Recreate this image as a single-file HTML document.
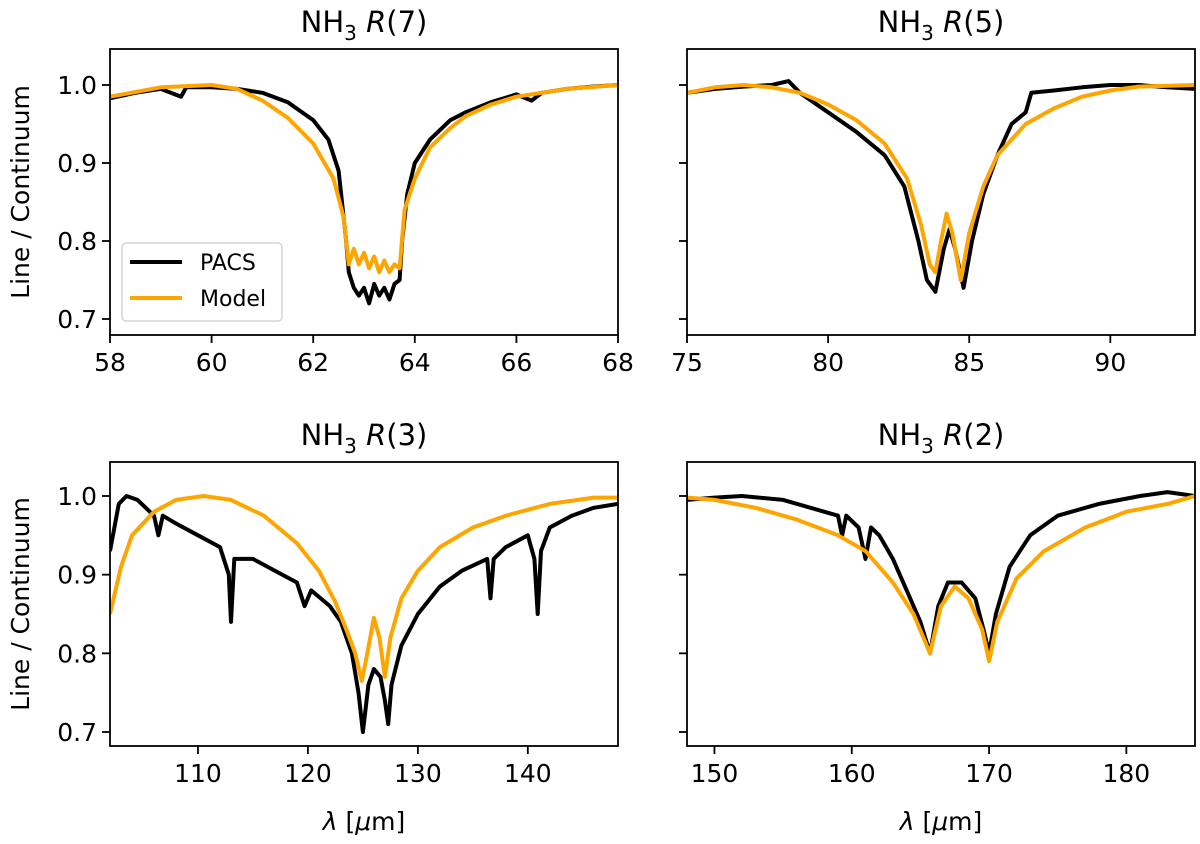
<!DOCTYPE html>
<html><head><meta charset="utf-8"><style>
body{margin:0;background:#fff;}
svg text{font-family:"DejaVu Sans","Liberation Sans",sans-serif;fill:#000;}
</style></head><body>
<svg id="fig" width="1200" height="839" viewBox="0 0 1200 839" xmlns="http://www.w3.org/2000/svg"></svg>
<script>
// Panel R(7)
const r7PacsX=[58,58.5,59,59.4,59.5,60,60.5,61,61.5,62,62.3,62.5,62.65,62.7,62.8,62.9,63,63.1,63.2,63.3,63.4,63.5,63.6,63.7,63.75,63.85,64,64.3,64.7,65,65.5,66,66.3,66.5,67,67.5,68];
const r7PacsY=[0.983,0.99,0.995,0.985,0.997,0.997,0.995,0.99,0.978,0.955,0.93,0.89,0.80,0.76,0.74,0.73,0.74,0.72,0.745,0.73,0.74,0.725,0.745,0.75,0.80,0.86,0.90,0.93,0.955,0.965,0.978,0.988,0.98,0.99,0.995,0.998,1.0];
const r7ModX=[58,59,60,60.5,61,61.5,62,62.4,62.6,62.7,62.8,62.9,63.0,63.1,63.2,63.3,63.4,63.5,63.6,63.7,63.8,64,64.3,64.7,65,65.5,66,67,68];
const r7ModY=[0.985,0.997,1.0,0.995,0.98,0.958,0.925,0.88,0.83,0.77,0.79,0.77,0.785,0.765,0.78,0.76,0.775,0.76,0.77,0.765,0.84,0.88,0.92,0.945,0.96,0.975,0.985,0.995,1.0];
// Panel R(5)
const r5PacsX=[75,76,77,78,78.6,79,80,81,82,82.7,83.2,83.5,83.8,84.1,84.3,84.5,84.8,85.1,85.5,86,86.5,87,87.2,88,89,90,91,92,93];
const r5PacsY=[0.99,0.995,0.998,1.0,1.005,0.99,0.965,0.94,0.91,0.87,0.80,0.75,0.735,0.79,0.815,0.79,0.74,0.80,0.86,0.91,0.95,0.965,0.99,0.993,0.997,1.0,1.0,0.997,0.995];
const r5ModX=[75,76,77,78,79,80,81,82,82.8,83.3,83.6,83.8,84,84.2,84.4,84.7,85,85.5,86,87,88,89,90,91,93];
const r5ModY=[0.99,0.997,1.0,0.997,0.99,0.975,0.955,0.925,0.88,0.82,0.77,0.76,0.80,0.835,0.81,0.75,0.81,0.87,0.91,0.95,0.97,0.985,0.993,0.998,1.0];
// Panel R(3)
const r3PacsX=[102,102.8,103.5,104.5,106,106.4,106.8,108,110,112,112.8,113,113.3,115,117,119,119.7,120.3,122,123,124,124.6,125,125.5,126,126.6,127,127.3,127.6,128.5,130,132,134,136.3,136.6,136.9,138,140,140.6,140.9,141.2,142,144,146,148.2];
const r3PacsY=[0.93,0.99,1.0,0.995,0.975,0.95,0.975,0.965,0.95,0.935,0.90,0.84,0.92,0.92,0.905,0.89,0.86,0.88,0.86,0.84,0.80,0.75,0.70,0.76,0.78,0.77,0.74,0.71,0.76,0.81,0.85,0.885,0.905,0.92,0.87,0.92,0.935,0.95,0.92,0.85,0.93,0.96,0.975,0.985,0.99];
const r3ModX=[102,103,104,106,108,110.5,113,116,119,121,122.5,123.5,124.3,124.9,125.4,126,126.5,127,127.5,128.5,130,132,135,138,142,146,148.2];
const r3ModY=[0.85,0.91,0.95,0.98,0.995,1.0,0.995,0.975,0.94,0.905,0.865,0.83,0.80,0.765,0.80,0.845,0.82,0.77,0.82,0.87,0.905,0.935,0.96,0.975,0.99,0.998,0.998];
// Panel R(2)
const r2PacsX=[148,150,152,155,157,159,159.3,159.6,160.5,161,161.4,162,163,164,165,165.7,166.3,167,168,169,169.6,170,170.5,171.5,173,175,178,181,183,185];
const r2PacsY=[0.995,0.998,1.0,0.995,0.985,0.975,0.95,0.975,0.96,0.92,0.96,0.95,0.92,0.88,0.84,0.80,0.86,0.89,0.89,0.87,0.83,0.80,0.85,0.91,0.95,0.975,0.99,1.0,1.005,1.0];
const r2ModX=[148,150,153,156,159,161,163,164.5,165.7,166.5,167.5,168.5,169.5,170,170.6,172,174,177,180,183,185];
const r2ModY=[0.998,0.995,0.985,0.97,0.95,0.93,0.89,0.85,0.80,0.86,0.885,0.87,0.83,0.79,0.84,0.895,0.93,0.96,0.98,0.99,1.0];
const yTicks=[0.7,0.8,0.9,1.0];
const yTickLabels=["0.7","0.8","0.9","1.0"];
const r7Ticks=[58,60,62,64,66,68];
const r5Ticks=[75,80,85,90];
const r3Ticks=[110,120,130,140];
const r2Ticks=[150,160,170,180];

const NS="http://www.w3.org/2000/svg";
const svg=document.getElementById('fig');
function mk(tag,attrs,parent){const e=document.createElementNS(NS,tag);for(const k in attrs)e.setAttribute(k,attrs[k]);(parent||svg).appendChild(e);return e;}

const panels=[
 {name:'r7',title:'7',x0:110,x1:618,y0:49,y1:335,xmin:58,xmax:68,ya:85,yb:319,ticks:r7Ticks,px:r7PacsX,py:r7PacsY,mx:r7ModX,my:r7ModY,ylab:true,yt:true,legend:true},
 {name:'r5',title:'5',x0:687,x1:1195,y0:49,y1:335,xmin:75,xmax:93,ya:85,yb:319,ticks:r5Ticks,px:r5PacsX,py:r5PacsY,mx:r5ModX,my:r5ModY,ylab:false,yt:false},
 {name:'r3',title:'3',x0:110,x1:618,y0:462,y1:746,xmin:102,xmax:148.2,ya:496,yb:732,ticks:r3Ticks,px:r3PacsX,py:r3PacsY,mx:r3ModX,my:r3ModY,ylab:true,yt:true,xl:true},
 {name:'r2',title:'2',x0:687,x1:1195,y0:462,y1:746,xmin:148,xmax:185,ya:496,yb:732,ticks:r2Ticks,px:r2PacsX,py:r2PacsY,mx:r2ModX,my:r2ModY,ylab:false,yt:false,xl:true}
];
panels.forEach(p=>{
 const g=mk('g',{});
 
 
 const X=v=>p.x0+(v-p.xmin)/(p.xmax-p.xmin)*(p.x1-p.x0);
 const Y=v=>p.yb+(v-0.7)/(0.3)*(p.ya-p.yb);
 const cid='clip-'+p.name;
 const cp=mk('clipPath',{id:cid},g);mk('rect',{x:p.x0,y:p.y0,width:p.x1-p.x0,height:p.y1-p.y0},cp);
 const pts=(xs,ys)=>xs.map((x,i)=>X(x).toFixed(1)+','+Y(ys[i]).toFixed(1)).join(' ');
 const l1=mk('polyline',{points:pts(p.px,p.py),fill:'none',stroke:'#000','stroke-width':4,'stroke-linejoin':'round','clip-path':'url(#'+cid+')'},g);
 
 
 const l2=mk('polyline',{points:pts(p.mx,p.my),fill:'none',stroke:'#ffa500','stroke-width':4,'stroke-linejoin':'round','clip-path':'url(#'+cid+')'},g);
 
 
 mk('rect',{x:p.x0,y:p.y0,width:p.x1-p.x0,height:p.y1-p.y0,fill:'none',stroke:'#000','stroke-width':1.8},g);
 yTicks.forEach((t,i)=>{
  mk('line',{x1:p.x0-8,x2:p.x0,y1:Y(t),y2:Y(t),stroke:'#000','stroke-width':1.8},g);
  if(p.yt){const tx=mk('text',{x:p.x0-13,y:Y(t)+9,'text-anchor':'end','font-size':25},g);tx.textContent=yTickLabels[i];
   
   }
 });
 p.ticks.forEach(t=>{
  mk('line',{x1:X(t),x2:X(t),y1:p.y1,y2:p.y1+8,stroke:'#000','stroke-width':1.8},g);
  const tx=mk('text',{x:X(t),y:p.y1+36,'text-anchor':'middle','font-size':25},g);tx.textContent=t;
  
  
 });
 const ti=mk('text',{x:(p.x0+p.x1)/2,y:p.y0-17,'text-anchor':'middle','font-size':29},g);
 ti.innerHTML='NH<tspan font-size="20" dy="8">3</tspan><tspan dy="-8"> </tspan><tspan font-style="italic">R</tspan>('+p.title+')';
 
 
 if(p.ylab){const yl=mk('text',{x:0,y:0,'text-anchor':'middle','font-size':25,transform:'translate(29,'+((p.y0+p.y1)/2)+') rotate(-90)'},g);yl.textContent='Line / Continuum';
  
  }
 if(p.xl){const xl=mk('text',{x:(p.x0+p.x1)/2,y:830,'text-anchor':'middle','font-size':25},g);xl.innerHTML='<tspan font-style="italic">λ</tspan> [<tspan font-style="italic">μ</tspan>m]';
  
  }
 if(p.legend){
  const lg=mk('g',{},g);
  
  
  mk('rect',{x:122,y:243,width:160,height:78,rx:4,fill:'#fff',stroke:'#ccc','stroke-width':1.2},lg);
  mk('line',{x1:130,x2:182,y1:262,y2:262,stroke:'#000','stroke-width':4},lg);
  mk('line',{x1:130,x2:182,y1:298,y2:298,stroke:'#ffa500','stroke-width':4},lg);
  const a=mk('text',{x:200,y:270,'font-size':22},lg);a.textContent='PACS';
  
  
  const b=mk('text',{x:200,y:306,'font-size':22},lg);b.textContent='Model';
  
  
 }
});
</script>
</body></html>
